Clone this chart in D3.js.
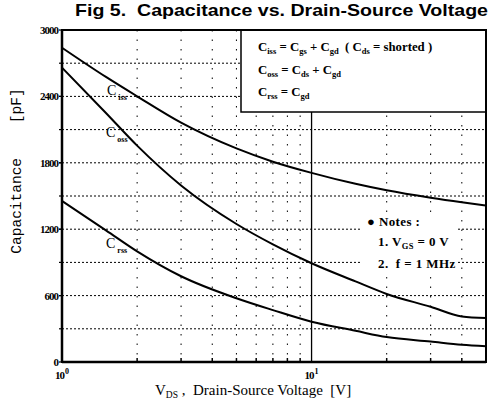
<!DOCTYPE html>
<html>
<head>
<meta charset="utf-8">
<script src="https://cdn.jsdelivr.net/npm/d3@7"></script>
<style>
  body { margin: 0; background: #fff; }
  svg { display: block; }
</style>
</head>
<body>
<div id="chart"></div>
<script>
// values (pF vs V_DS)
const voltages = [1, 1.5, 2, 3, 5, 7, 10, 15, 20, 30, 40, 50];
const ciss = [2840, 2576, 2401, 2163, 1930, 1810, 1709, 1610, 1551, 1484, 1443, 1414];
const coss = [2660, 2250, 1955, 1595, 1247, 1063, 892, 728, 615, 499, 412, 398];
const crss = [1455, 1190, 1000, 775, 576, 469, 364, 282, 225, 185, 156, 142];

const yTicks = [0, 600, 1200, 1800, 2400, 3000];
const yGrid = [300, 600, 900, 1200, 1500, 1800, 2100, 2400, 2700];
const xGrid = [2, 3, 4, 5, 6, 7, 8, 9, 20, 30, 40];
const xTickLabels = [{ v: 1, base: '10', exp: '0' }, { v: 10, base: '10', exp: '1' }];

const W = 492, H = 412;
const margin = { top: 30, right: 6, bottom: 50, left: 62 };
const width = W - margin.left - margin.right;
const height = H - margin.top - margin.bottom;

const svg = d3.select('#chart').append('svg')
  .attr('width', W)
  .attr('height', H);

const g = svg.append('g')
  .attr('transform', `translate(${margin.left},${margin.top})`);

const x = d3.scaleLog().domain([1, 50]).range([0, width]);
const y = d3.scaleLinear().domain([0, 3000]).range([height, 0]);

const serif = '"Liberation Serif", "DejaVu Serif", serif';

// grid
g.selectAll('line.hgrid')
  .data(yGrid)
  .join('line')
    .attr('class', 'hgrid')
    .attr('x1', 0).attr('x2', width)
    .attr('y1', d => y(d)).attr('y2', d => y(d))
    .attr('stroke', '#000')
    .attr('stroke-width', 1)
    .attr('stroke-dasharray', '2,2');

g.selectAll('line.vgrid')
  .data(xGrid)
  .join('line')
    .attr('class', 'vgrid')
    .attr('x1', d => x(d)).attr('x2', d => x(d))
    .attr('y1', 0).attr('y2', height)
    .attr('stroke', '#000')
    .attr('stroke-width', 1)
    .attr('stroke-dasharray', '1.5,8');

// small ticks along the bottom
g.selectAll('line.minor')
  .data(xGrid)
  .join('line')
    .attr('class', 'minor')
    .attr('x1', d => x(d)).attr('x2', d => x(d))
    .attr('y1', height).attr('y2', height - 4)
    .attr('stroke', '#000')
    .attr('stroke-width', 1.5);

// left ticks
g.selectAll('line.ytick')
  .data(yGrid.concat(yTicks))
  .join('line')
    .attr('class', 'ytick')
    .attr('x1', -3).attr('x2', 0)
    .attr('y1', d => y(d)).attr('y2', d => y(d))
    .attr('stroke', '#000')
    .attr('stroke-width', 1.2);

// helper: text made of [string, isSub] parts
function richText(sel, parts, subSize) {
  let shift = 0;
  parts.forEach(([s, sub]) => {
    const want = sub ? 3 : 0;
    const t = sel.append('tspan').text(s).attr('dy', want - shift);
    if (sub) t.attr('font-size', subSize);
    shift = want;
  });
  return sel;
}

// legend box and the solid line at 10 V
const boxX = 241 - margin.left, boxB = 112 - margin.top;
g.append('rect')
  .attr('x', boxX).attr('y', 0)
  .attr('width', width - boxX).attr('height', boxB)
  .attr('fill', '#fff')
  .attr('stroke', '#000')
  .attr('stroke-width', 1.5);

g.append('line')
  .attr('x1', x(10)).attr('x2', x(10))
  .attr('y1', boxB).attr('y2', height)
  .attr('stroke', '#000')
  .attr('stroke-width', 1.3);

const legendLines = [
  [['C', 0], ['iss', 1], ' = C', ['gs', 1], ' + C', ['gd', 1], '  ( C', ['ds', 1], ' = shorted )'],
  [['C', 0], ['oss', 1], ' = C', ['ds', 1], ' + C', ['gd', 1]],
  [['C', 0], ['rss', 1], ' = C', ['gd', 1]]
].map(l => l.map(p => typeof p === 'string' ? [p, 0] : p));

legendLines.forEach((parts, i) => {
  const t = g.append('text')
    .attr('x', 258 - margin.left)
    .attr('y', 51 - margin.top + i * 22.5)
    .attr('font-family', serif)
    .attr('font-weight', 'bold')
    .attr('font-size', 12.8)
    .style('white-space', 'pre');
  richText(t, parts, 8.5);
});

// notes with white background
g.append('rect')
  .attr('x', 362 - margin.left).attr('y', 213 - margin.top)
  .attr('width', 96).attr('height', 60)
  .attr('fill', '#fff');

const notes = [
  { x: 367, y: 226, parts: [['\u25CF Notes :', 0]] },
  { x: 378, y: 246, parts: [['1. V', 0], ['GS', 1], [' = 0 V', 0]] },
  { x: 378, y: 268, parts: [['2.  f = 1 MHz', 0]] }
];
notes.forEach(n => {
  const t = g.append('text')
    .attr('x', n.x - margin.left)
    .attr('y', n.y - margin.top)
    .attr('font-family', serif)
    .attr('font-weight', 'bold')
    .attr('font-size', 13)
    .attr('letter-spacing', 0.4)
    .style('white-space', 'pre');
  richText(t, n.parts, 8.5);
});

// curves
const line = d3.line()
  .x(d => x(d[0]))
  .y(d => y(d[1]))
  .curve(d3.curveMonotoneX);

[ciss, coss, crss].forEach(vals => {
  g.append('path')
    .datum(voltages.map((v, i) => [v, vals[i]]))
    .attr('fill', 'none')
    .attr('stroke', '#000')
    .attr('stroke-width', 2)
    .attr('d', line);
});

// curve labels
const curveLabels = [
  { x: 107, y: 95, sub: 'iss' },
  { x: 106, y: 137, sub: 'oss' },
  { x: 106, y: 248, sub: 'rss' }
];
curveLabels.forEach(c => {
  const t = g.append('text')
    .attr('x', c.x - margin.left)
    .attr('y', c.y - margin.top)
    .attr('font-family', serif)
    .attr('font-size', 14);
  t.append('tspan').text('C');
  t.append('tspan').text(c.sub).attr('font-size', 8).attr('font-weight', 'bold').attr('dy', 5).attr('dx', 2);
});

// frame
g.append('rect')
  .attr('x', 0).attr('y', 0)
  .attr('width', width).attr('height', height)
  .attr('fill', 'none')
  .attr('stroke', '#000')
  .attr('stroke-width', 2);
g.append('line')
  .attr('x1', 0).attr('x2', 0).attr('y1', 0).attr('y2', height)
  .attr('stroke', '#000').attr('stroke-width', 2.5);
g.append('line')
  .attr('x1', 0).attr('x2', width).attr('y1', height).attr('y2', height)
  .attr('stroke', '#000').attr('stroke-width', 2.5);

// y tick labels
g.selectAll('text.ylab')
  .data(yTicks)
  .join('text')
    .attr('class', 'ylab')
    .attr('x', -4)
    .attr('y', d => y(d) + 4)
    .attr('text-anchor', 'end')
    .attr('font-family', serif)
    .attr('font-weight', 'bold')
    .attr('font-size', 11)
    .attr('letter-spacing', -1)
    .text(d => d);

// x tick labels
xTickLabels.forEach(d => {
  const t = g.append('text')
    .attr('x', x(d.v) - 7)
    .attr('y', height + 17)
    .attr('font-family', serif)
    .attr('font-weight', 'bold')
    .attr('font-size', 11)
    .attr('letter-spacing', -1);
  t.append('tspan').text(d.base);
  t.append('tspan').text(d.exp).attr('font-size', 8).attr('dy', -5).attr('dx', 1);
});

// title
svg.append('text')
  .attr('x', 75)
  .attr('y', 16)
  .attr('font-family', '"Liberation Sans", Arial, sans-serif')
  .attr('font-weight', 'bold')
  .attr('font-size', 16.5)
  .attr('textLength', 413)
  .attr('lengthAdjust', 'spacingAndGlyphs')
  .style('white-space', 'pre')
  .text('Fig 5.  Capacitance vs. Drain-Source Voltage');

// y axis title
svg.append('text')
  .attr('transform', 'translate(21,171) rotate(-90)')
  .attr('text-anchor', 'middle')
  .attr('font-family', '"Liberation Mono", "DejaVu Sans Mono", monospace')
  .attr('font-size', 14.5)
  .style('white-space', 'pre')
  .text('Capacitance    [pF]');

// x axis title
const xt = svg.append('text')
  .attr('x', 155)
  .attr('y', 395)
  .attr('font-family', serif)
  .attr('font-size', 15)
  .style('white-space', 'pre');
richText(xt, [['V', 0], ['DS', 1], [' ,  Drain-Source Voltage  [V]', 0]], 9.5);
</script>
</body>
</html>
